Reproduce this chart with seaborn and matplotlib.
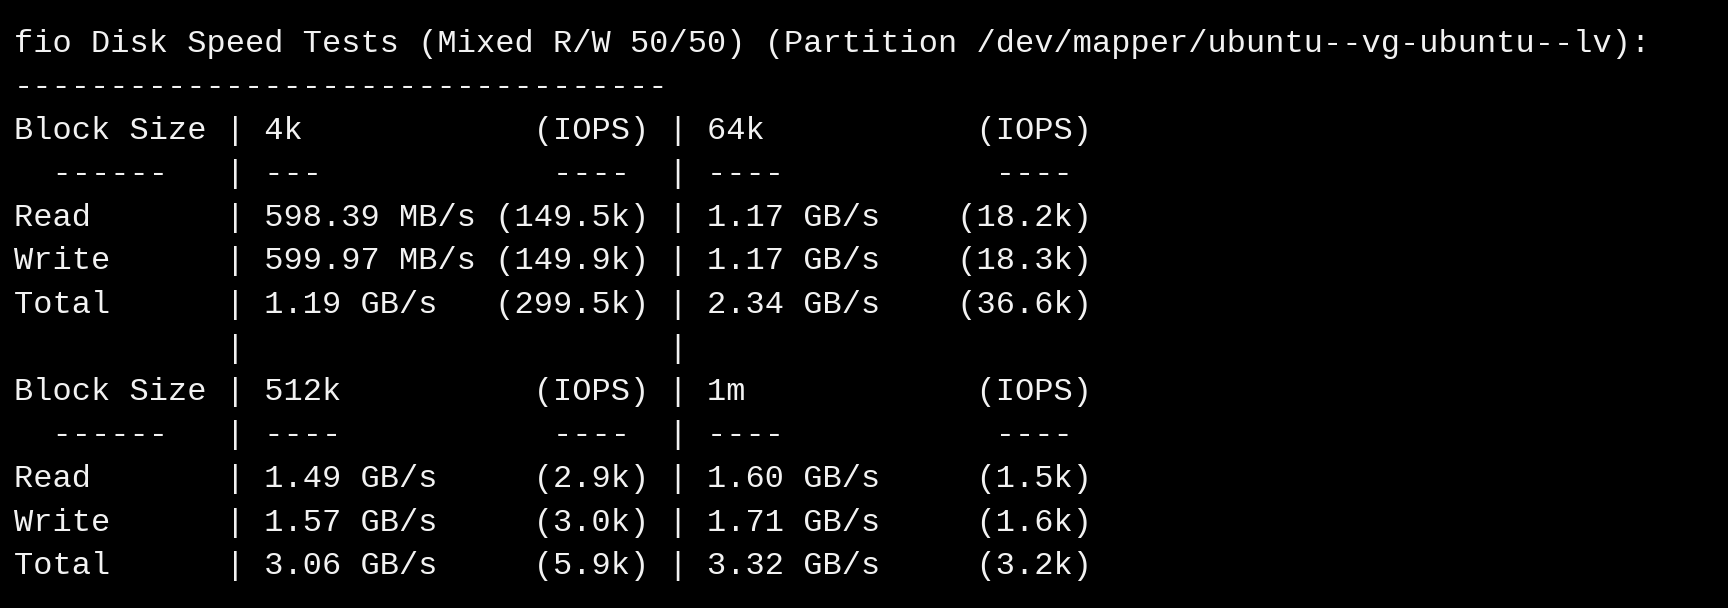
import matplotlib
matplotlib.use("Agg")
import matplotlib.pyplot as plt
import seaborn as sns

sns.set_theme(style="dark")
plt.rcParams['font.family'] = ['Liberation Mono', 'DejaVu Sans Mono']

title = "fio Disk Speed Tests (Mixed R/W 50/50) (Partition /dev/mapper/ubuntu--vg-ubuntu--lv):"
block_sizes = [["4k", "64k"], ["512k", "1m"]]
row_labels = ["Read", "Write", "Total"]
speeds = [
    [["598.39 MB/s", "1.17 GB/s"], ["599.97 MB/s", "1.17 GB/s"], ["1.19 GB/s", "2.34 GB/s"]],
    [["1.49 GB/s", "1.60 GB/s"], ["1.57 GB/s", "1.71 GB/s"], ["3.06 GB/s", "3.32 GB/s"]],
]
iops = [
    [["(149.5k)", "(18.2k)"], ["(149.9k)", "(18.3k)"], ["(299.5k)", "(36.6k)"]],
    [["(2.9k)", "(1.5k)"], ["(3.0k)", "(1.6k)"], ["(5.9k)", "(3.2k)"]],
]

W = 20
def cell(a, b):
    return f"{a:<{W - len(b)}}{b}"

def row(label, c1, c2):
    return f"{label:<11}| {c1} | {c2}"

lines = [title, "-" * 34]
for t in range(2):
    bs = block_sizes[t]
    lines.append(row("Block Size", cell(bs[0], "(IOPS)"), cell(bs[1], "(IOPS)")))
    lines.append(row("  ------", cell("-" * len(bs[0]) if len(bs[0]) > 2 else "---", "---- "),
                     cell("----", "---- ")))
    for r, lab in enumerate(row_labels):
        lines.append(row(lab, cell(speeds[t][r][0], iops[t][r][0]), cell(speeds[t][r][1], iops[t][r][1])))
    if t == 0:
        lines.append(" " * 11 + "|" + " " * 22 + "|")

fig = plt.figure(figsize=(17.28, 6.08), dpi=100, facecolor="black")
H = 608
for i, ln in enumerate(lines):
    y = 44 + i * 43.5
    fig.text(14 / 1728, 1 - y / H, ln, color="#f2f2f2", fontsize=23, va="center", ha="left")
fig.savefig("out.png", dpi=100, facecolor="black")
